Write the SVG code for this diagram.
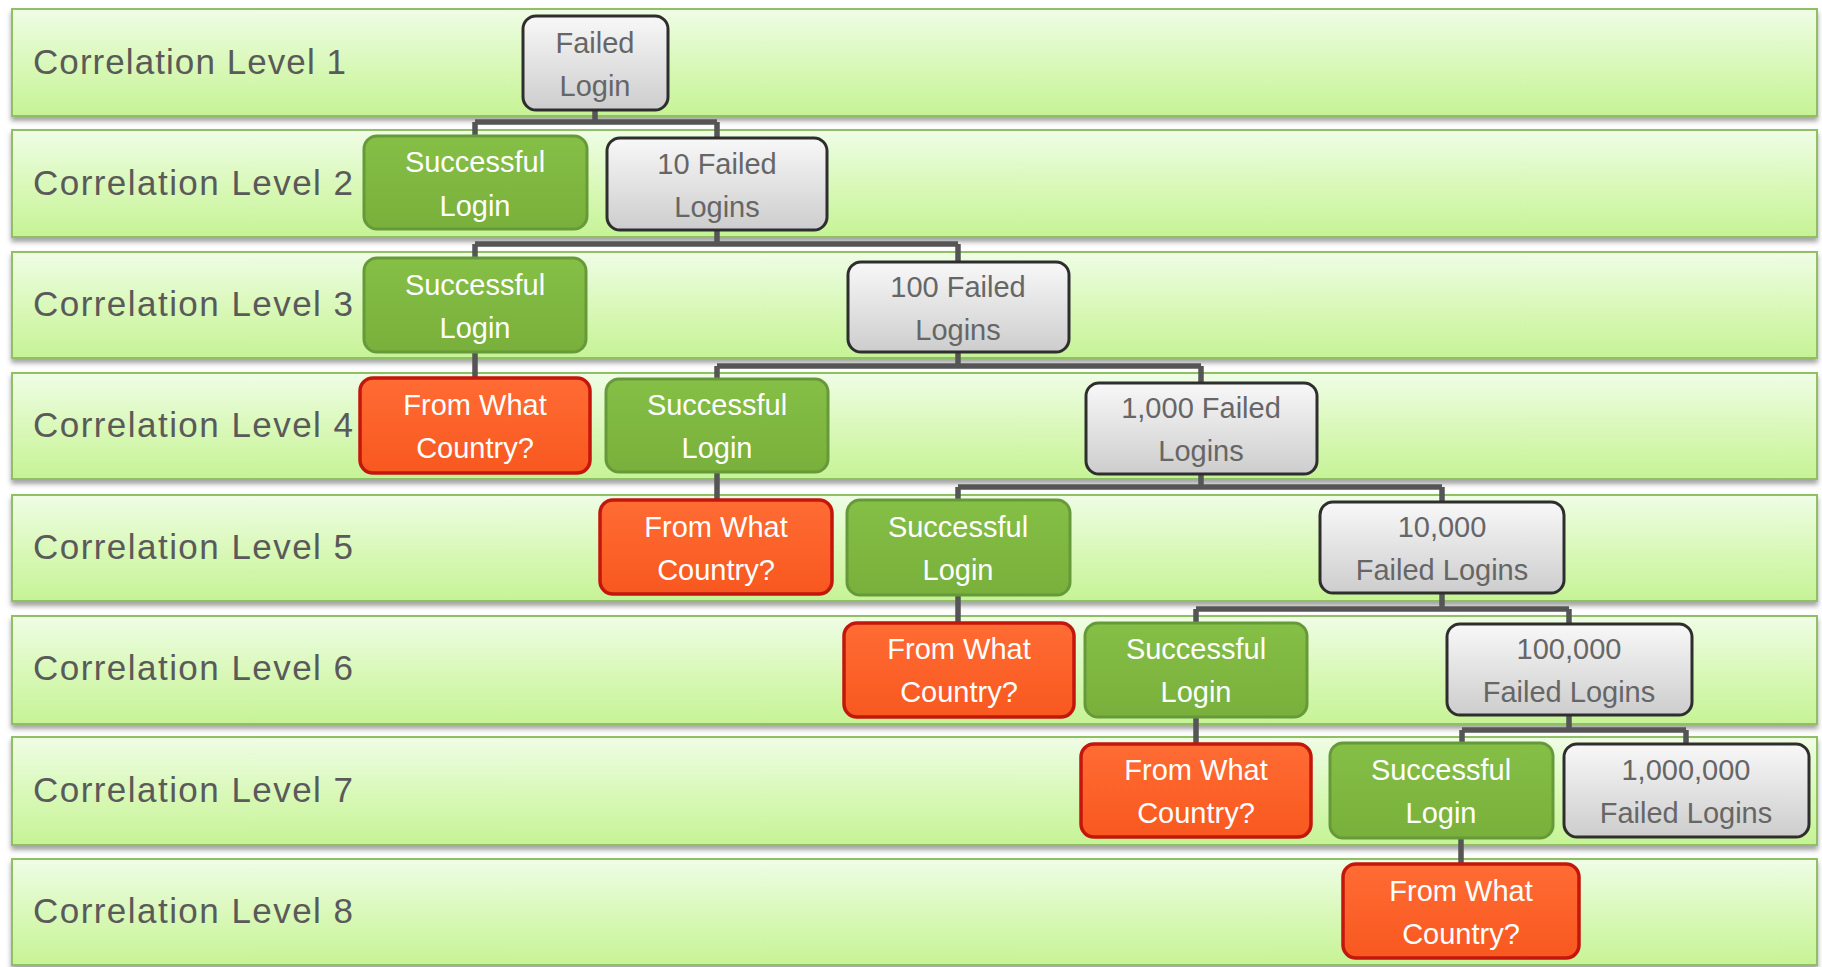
<svg xmlns="http://www.w3.org/2000/svg" width="1822" height="967" viewBox="0 0 1822 967">
<defs>
<linearGradient id="gBand" x1="0" y1="0" x2="0" y2="1">
<stop offset="0" stop-color="#effde6"/><stop offset="0.55" stop-color="#d8f8b6"/><stop offset="1" stop-color="#c6f396"/>
</linearGradient>
<linearGradient id="gGray" x1="0" y1="0" x2="0" y2="1">
<stop offset="0" stop-color="#f8f8f8"/><stop offset="1" stop-color="#cdcdcd"/>
</linearGradient>
<linearGradient id="gGreen" x1="0" y1="0" x2="0" y2="1">
<stop offset="0" stop-color="#86bf46"/><stop offset="1" stop-color="#78b03b"/>
</linearGradient>
<linearGradient id="gRed" x1="0" y1="0" x2="0" y2="1">
<stop offset="0" stop-color="#ff6c34"/><stop offset="1" stop-color="#f8581f"/>
</linearGradient>
<filter id="sh" x="-2%" y="-10%" width="104%" height="130%">
<feDropShadow dx="0" dy="4" stdDeviation="2.5" flood-color="#555" flood-opacity="0.55"/>
</filter>
</defs>
<style>
.band{fill:url(#gBand);stroke:#8fc064;stroke-width:2;filter:url(#sh)}
.lvl{font-family:"Liberation Sans",Arial,sans-serif;font-size:35px;fill:#5a5a5a}
.n text{font-family:"Liberation Sans",Arial,sans-serif;font-size:29px;text-anchor:middle}
.gray rect{fill:url(#gGray);stroke:#2e2e2e;stroke-width:3}
.gray text{fill:#666}
.green rect{fill:url(#gGreen);stroke:#66993a;stroke-width:3}
.green text{fill:#ffffff}
.red rect{fill:url(#gRed);stroke:#c3160c;stroke-width:3.5}
.red text{fill:#ffffff}
.conn{fill:none;stroke:#555;stroke-width:5.5}
</style>
<g id="bands">
<rect class="band" x="12" y="9" width="1805" height="107"/>
<rect class="band" x="12" y="130" width="1805" height="107"/>
<rect class="band" x="12" y="252" width="1805" height="106"/>
<rect class="band" x="12" y="373" width="1805" height="106"/>
<rect class="band" x="12" y="495" width="1805" height="106"/>
<rect class="band" x="12" y="616" width="1805" height="108"/>
<rect class="band" x="12" y="737" width="1805" height="108"/>
<rect class="band" x="12" y="859" width="1805" height="106"/>
</g>
<g id="levels">
<text class="lvl" x="33" y="74" textLength="313" lengthAdjust="spacing">Correlation Level 1</text>
<text class="lvl" x="33" y="195" textLength="320" lengthAdjust="spacing">Correlation Level 2</text>
<text class="lvl" x="33" y="316" textLength="320" lengthAdjust="spacing">Correlation Level 3</text>
<text class="lvl" x="33" y="437" textLength="320" lengthAdjust="spacing">Correlation Level 4</text>
<text class="lvl" x="33" y="559" textLength="320" lengthAdjust="spacing">Correlation Level 5</text>
<text class="lvl" x="33" y="680" textLength="320" lengthAdjust="spacing">Correlation Level 6</text>
<text class="lvl" x="33" y="802" textLength="320" lengthAdjust="spacing">Correlation Level 7</text>
<text class="lvl" x="33" y="923" textLength="320" lengthAdjust="spacing">Correlation Level 8</text>
</g>
<g id="connectors">
<path class="conn" d="M595 110 V122 M475 122 H717 M475 122 V136 M717 122 V138"/>
<path class="conn" d="M717 230 V244 M475 244 H958 M475 244 V258 M958 244 V262"/>
<path class="conn" d="M475 352 V378"/>
<path class="conn" d="M958 352 V366 M717 366 H1201 M717 366 V379 M1201 366 V383"/>
<path class="conn" d="M717 472 V500"/>
<path class="conn" d="M1201 474 V487 M958 487 H1442 M958 487 V500 M1442 487 V502"/>
<path class="conn" d="M958 595 V623"/>
<path class="conn" d="M1442 593 V609 M1196 609 H1569 M1196 609 V623 M1569 609 V624"/>
<path class="conn" d="M1196 717 V744"/>
<path class="conn" d="M1569 715 V730 M1462 730 H1686 M1462 730 V743 M1686 730 V744"/>
<path class="conn" d="M1461 838 V864"/>
</g>
<g id="n1" class="n gray"><rect x="523" y="16" width="145" height="94" rx="13"/><text x="595" y="53">Failed</text><text x="595" y="96">Login</text></g>
<g id="n2a" class="n green"><rect x="364" y="136" width="223" height="93" rx="13"/><text x="475" y="172">Successful</text><text x="475" y="216">Login</text></g>
<g id="n2b" class="n gray"><rect x="607" y="138" width="220" height="92" rx="13"/><text x="717" y="174">10 Failed</text><text x="717" y="217">Logins</text></g>
<g id="n3a" class="n green"><rect x="364" y="258" width="222" height="94" rx="13"/><text x="475" y="295">Successful</text><text x="475" y="338">Login</text></g>
<g id="n3b" class="n gray"><rect x="848" y="262" width="221" height="90" rx="13"/><text x="958" y="297">100 Failed</text><text x="958" y="340">Logins</text></g>
<g id="n4a" class="n red"><rect x="360" y="378" width="230" height="95" rx="13"/><text x="475" y="415">From What</text><text x="475" y="458">Country?</text></g>
<g id="n4b" class="n green"><rect x="606" y="379" width="222" height="93" rx="13"/><text x="717" y="415">Successful</text><text x="717" y="458">Login</text></g>
<g id="n4c" class="n gray"><rect x="1086" y="383" width="231" height="91" rx="13"/><text x="1201" y="418">1,000 Failed</text><text x="1201" y="461">Logins</text></g>
<g id="n5a" class="n red"><rect x="600" y="500" width="232" height="94" rx="13"/><text x="716" y="537">From What</text><text x="716" y="580">Country?</text></g>
<g id="n5b" class="n green"><rect x="847" y="500" width="223" height="95" rx="13"/><text x="958" y="537">Successful</text><text x="958" y="580">Login</text></g>
<g id="n5c" class="n gray"><rect x="1320" y="502" width="244" height="91" rx="13"/><text x="1442" y="537">10,000</text><text x="1442" y="580">Failed Logins</text></g>
<g id="n6a" class="n red"><rect x="844" y="623" width="230" height="94" rx="13"/><text x="959" y="659">From What</text><text x="959" y="702">Country?</text></g>
<g id="n6b" class="n green"><rect x="1085" y="623" width="222" height="94" rx="13"/><text x="1196" y="659">Successful</text><text x="1196" y="702">Login</text></g>
<g id="n6c" class="n gray"><rect x="1447" y="624" width="245" height="91" rx="13"/><text x="1569" y="659">100,000</text><text x="1569" y="702">Failed Logins</text></g>
<g id="n7a" class="n red"><rect x="1081" y="744" width="230" height="93" rx="13"/><text x="1196" y="780">From What</text><text x="1196" y="823">Country?</text></g>
<g id="n7b" class="n green"><rect x="1330" y="743" width="223" height="95" rx="13"/><text x="1441" y="780">Successful</text><text x="1441" y="823">Login</text></g>
<g id="n7c" class="n gray"><rect x="1564" y="744" width="245" height="93" rx="13"/><text x="1686" y="780">1,000,000</text><text x="1686" y="823">Failed Logins</text></g>
<g id="n8a" class="n red"><rect x="1343" y="864" width="236" height="94" rx="13"/><text x="1461" y="901">From What</text><text x="1461" y="944">Country?</text></g>
</svg>
